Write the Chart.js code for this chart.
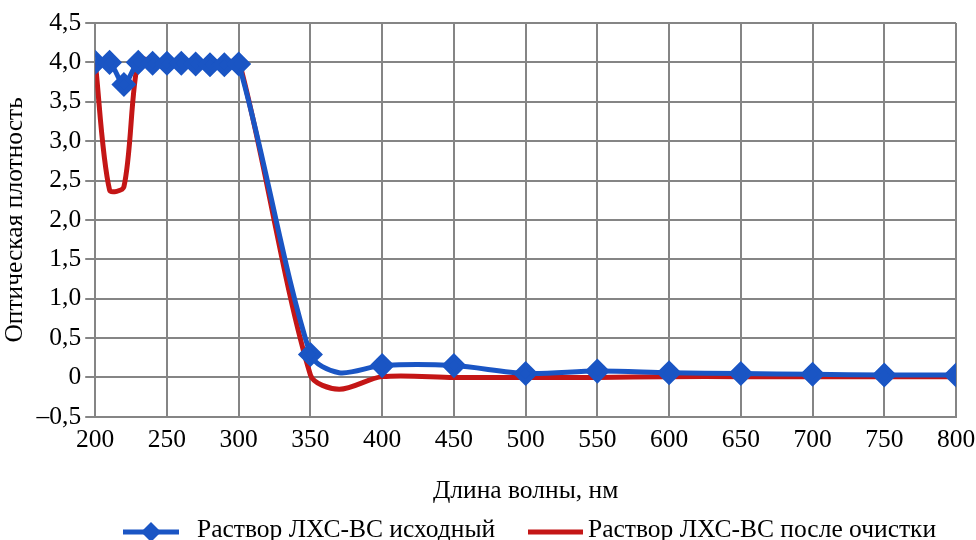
<!DOCTYPE html>
<html>
<head>
<meta charset="utf-8">
<script src="https://cdn.jsdelivr.net/npm/chart.js@4.4.0/dist/chart.umd.min.js"></script>
<style>
  html, body { margin: 0; padding: 0; background: #fff; }
  #wrap { width: 976px; height: 540px; }
</style>
</head>
<body>
<div id="wrap"><canvas id="myChart" width="976" height="540"></canvas></div>
<script>
// длина волны, нм
const waveBlue = [200, 210, 220, 230, 240, 250, 260, 270, 280, 290, 300, 350, 370, 400, 450, 500, 550, 600, 650, 700, 750, 800];
const blueValues = [4.0, 4.0, 3.72, 4.0, 3.99, 3.99, 3.99, 3.98, 3.97, 3.97, 3.98, 0.29, 0.06, 0.15, 0.15, 0.05, 0.08, 0.06, 0.05, 0.04, 0.03, 0.03];
// 370 нм — точка кривой без маркера
const blueMarked = waveBlue.map(x => x !== 370);

const waveRed = [200, 210, 220, 230, 240, 250, 260, 270, 280, 290, 300, 350, 370, 400, 450, 500, 550, 600, 650, 700, 750, 800];
const redValues = [4.0, 2.38, 2.42, 4.03, 4.02, 4.01, 4.0, 3.99, 3.98, 3.96, 4.03, 0.03, -0.15, 0.01, 0.0, 0.0, 0.0, 0.01, 0.01, 0.01, 0.01, 0.01];

const xTicks = [200, 250, 300, 350, 400, 450, 500, 550, 600, 650, 700, 750, 800];
const yTicks = [-0.5, 0, 0.5, 1.0, 1.5, 2.0, 2.5, 3.0, 3.5, 4.0, 4.5];

const blue = '#1a55c4';
const red = '#c41616';
const font = 'Liberation Serif, Times New Roman, serif';
const fs = 25.5;

const fmt = v => {
  if (Math.abs(v) < 1e-9) return '0';
  const s = Math.abs(v).toFixed(1).replace('.', ',');
  return v < 0 ? '\u2013' + s : s;
};

// легенда внизу: линия (с маркером) и подпись
const bottomLegend = {
  id: 'bottomLegend',
  afterDraw(chart) {
    const ctx = chart.ctx;
    const y = 530;
    const items = [
      { x0: 123, x1: 179, tx: 197, marker: true, ds: chart.data.datasets[0] },
      { x0: 528, x1: 583, tx: 588, marker: false, ds: chart.data.datasets[1] }
    ];
    ctx.save();
    items.forEach(it => {
      ctx.strokeStyle = it.ds.borderColor;
      ctx.lineWidth = 5;
      ctx.beginPath(); ctx.moveTo(it.x0, y + 2); ctx.lineTo(it.x1, y + 2); ctx.stroke();
      if (it.marker) {
        const cx = (it.x0 + it.x1) / 2;
        ctx.fillStyle = it.ds.borderColor;
        ctx.beginPath();
        ctx.moveTo(cx, y - 8); ctx.lineTo(cx + 10, y + 2); ctx.lineTo(cx, y + 12); ctx.lineTo(cx - 10, y + 2);
        ctx.closePath(); ctx.fill();
      }
      ctx.fillStyle = '#000';
      ctx.font = fs + 'px ' + font;
      ctx.textBaseline = 'middle';
      ctx.textAlign = 'left';
      ctx.fillText(it.ds.label, it.tx, y);
    });
    ctx.restore();
  }
};

new Chart(document.getElementById('myChart'), {
  type: 'line',
  data: {
    datasets: [
      {
        label: 'Раствор ЛХС-ВС исходный',
        data: waveBlue.map((x, i) => ({ x: x, y: blueValues[i] })),
        borderColor: blue,
        backgroundColor: blue,
        borderWidth: 5,
        pointStyle: 'rectRot',
        pointRadius: ctx => blueMarked[ctx.dataIndex] ? 9 : 0,
        pointHoverRadius: ctx => blueMarked[ctx.dataIndex] ? 9 : 0,
        tension: 0.3
      },
      {
        label: 'Раствор ЛХС-ВС после очистки',
        data: waveRed.map((x, i) => ({ x: x, y: redValues[i] })),
        borderColor: red,
        backgroundColor: red,
        borderWidth: 5,
        pointRadius: 0,
        tension: 0.3
      }
    ]
  },
  options: {
    responsive: false,
    animation: false,
    layout: { padding: { left: 0, right: 20, top: 23, bottom: 33 } },
    plugins: {
      tooltip: { enabled: false },
      legend: { display: false }
    },
    scales: {
      x: {
        type: 'linear',
        min: 200, max: 800,
        afterBuildTicks: axis => { axis.ticks = xTicks.map(v => ({ value: v })); },
        afterFit: axis => { axis.paddingRight = 20; axis.paddingLeft = 0; },
        grid: { color: '#858585', lineWidth: 2, drawTicks: false },
        border: { color: '#858585', width: 2 },
        ticks: { font: { family: font, size: fs }, color: '#000', padding: 8 },
        title: { display: true, text: 'Длина волны, нм', font: { family: font, size: fs }, color: '#000', padding: { top: 13, bottom: 0 } }
      },
      y: {
        min: -0.5, max: 4.5,
        afterBuildTicks: axis => { axis.ticks = yTicks.map(v => ({ value: v })); },
        grid: { color: '#858585', lineWidth: 2, drawTicks: true, tickLength: 10 },
        border: { color: '#858585', width: 2 },
        ticks: { font: { family: font, size: fs }, color: '#000', padding: 4, callback: v => fmt(v) },
        title: { display: true, text: 'Оптическая плотность', font: { family: font, size: fs }, color: '#000', padding: { top: 0, bottom: 2 } }
      }
    }
  },
  plugins: [bottomLegend]
});
</script>
</body>
</html>
